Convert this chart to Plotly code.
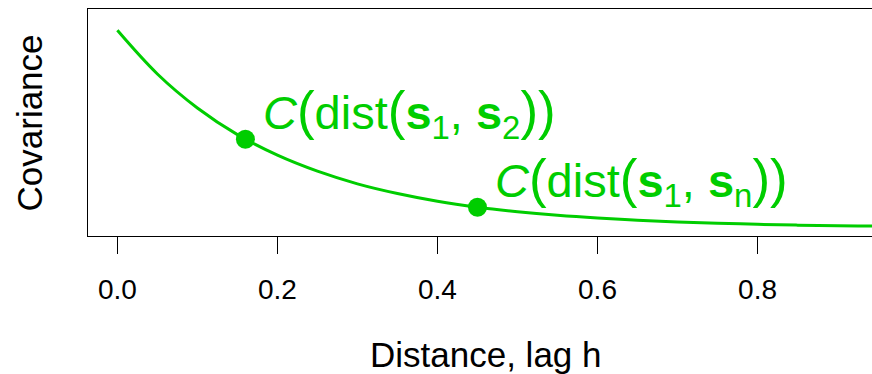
import plotly.graph_objects as go

# Covariance curve values (distance h -> covariance)
lag_h = [0.0, 0.05, 0.10, 0.15, 0.20, 0.25, 0.30, 0.35, 0.40, 0.45, 0.50,
         0.55, 0.60, 0.65, 0.70, 0.75, 0.80, 0.85, 0.90, 0.95, 1.00]
covariance = [1.000, 0.779, 0.607, 0.472, 0.368, 0.287, 0.223, 0.174, 0.135, 0.105, 0.082,
              0.064, 0.050, 0.039, 0.030, 0.024, 0.018, 0.014, 0.011, 0.009, 0.007]

# Highlighted points
point_h = [0.16, 0.45]
point_cov = [0.449, 0.105]
point_subscripts = ["2", "n"]

x_ticks = [0.0, 0.2, 0.4, 0.6, 0.8]
x_tick_text = ["0.0", "0.2", "0.4", "0.6", "0.8"]

GREEN = "#00CD00"
FONT = "Liberation Sans, Arial, Helvetica, sans-serif"


def paren(ch):
    return '<span style="font-size:53px">' + ch + '</span>'


def label(sub):
    return ("<i>C</i>" + paren("(") + "dist" + paren("(") +
            "<b>s</b><sub>1</sub>, <b>s</b><sub>" + sub + "</sub>" +
            paren(")") + paren(")"))


fig = go.Figure()
fig.add_trace(go.Scatter(x=lag_h, y=covariance, mode="lines", line_shape="spline",
                         line=dict(color=GREEN, width=3), hoverinfo="skip"))
fig.add_trace(go.Scatter(x=point_h, y=point_cov, mode="markers",
                         marker=dict(color=GREEN, size=19), hoverinfo="skip"))

for px, py, sub in zip(point_h, point_cov, point_subscripts):
    fig.add_annotation(x=px, y=py, text=label(sub), showarrow=False, xanchor="left",
                       yanchor="middle", xshift=16, yshift=26,
                       font=dict(family=FONT, size=47, color=GREEN))

fig.add_annotation(xref="paper", yref="paper", x=0.5077, y=-0.524, text="Distance, lag h",
                   showarrow=False, xanchor="center", yanchor="middle",
                   font=dict(family=FONT, size=35, color="black"))
fig.add_annotation(xref="paper", yref="paper", x=-0.074, y=0.5, text="Covariance",
                   showarrow=False, xanchor="center", yanchor="middle", textangle=-90,
                   font=dict(family=FONT, size=35, color="black"))

fig.update_layout(
    width=872, height=374,
    margin=dict(l=88, r=0, t=9, b=138),
    plot_bgcolor="white", paper_bgcolor="white",
    showlegend=False, hovermode=False,
    font=dict(family=FONT, color="black"),
)
fig.update_xaxes(range=[-0.0367, 0.943], tickvals=x_ticks, ticktext=x_tick_text,
                 ticks="outside", ticklen=17, tickwidth=1, tickcolor="black",
                 tickfont=dict(family=FONT, size=28, color="black"),
                 ticklabelstandoff=11,
                 showgrid=False, zeroline=False, showline=True, linecolor="black",
                 linewidth=1, mirror=True)
fig.update_yaxes(range=[-0.041, 1.108], showticklabels=False, ticks="",
                 showgrid=False, zeroline=False, showline=True, linecolor="black",
                 linewidth=1, mirror=False)

# Remove the default page margin so the figure fills the window exactly
fig.write_html("out.html", config={"displayModeBar": False},
               post_script="document.body.style.margin='0';document.body.style.overflow='hidden';")
